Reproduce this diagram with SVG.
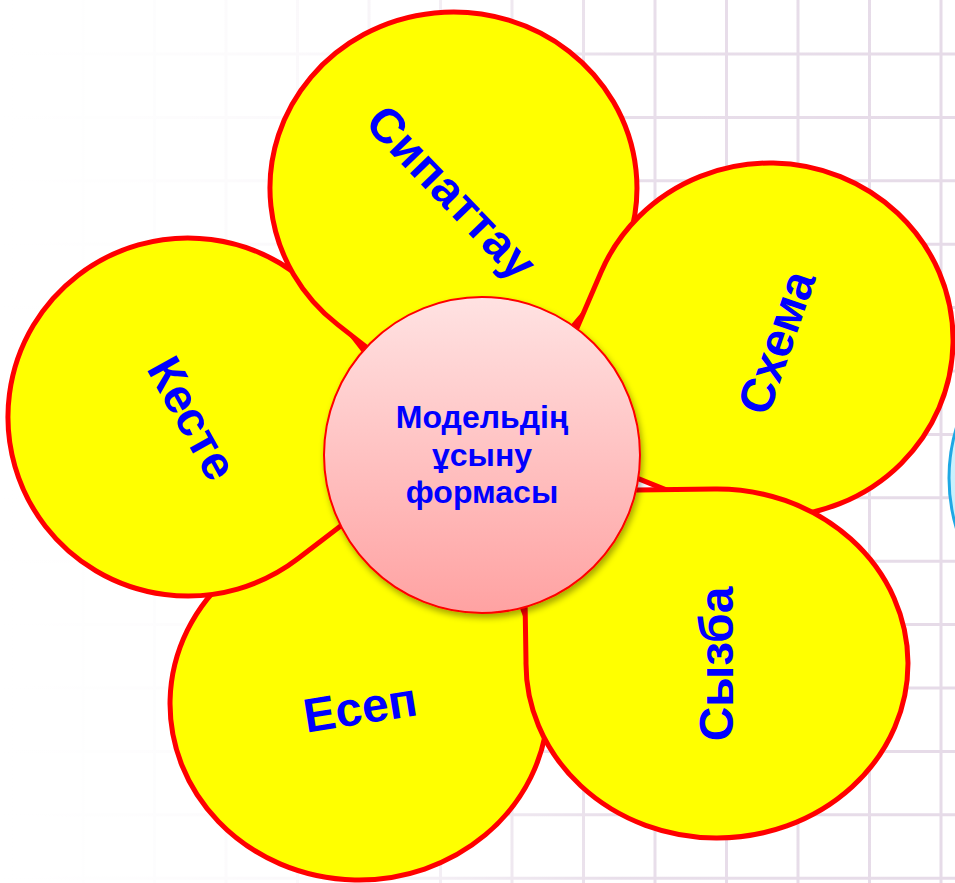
<svg xmlns="http://www.w3.org/2000/svg" width="955" height="883" viewBox="0 0 955 883">
  <defs>
    <linearGradient id="fade" x1="0" y1="0" x2="955" y2="0" gradientUnits="userSpaceOnUse">
      <stop offset="0" stop-color="#ffffff" stop-opacity="1"/>
      <stop offset="0.12" stop-color="#ffffff" stop-opacity="0.97"/>
      <stop offset="0.35" stop-color="#ffffff" stop-opacity="0.8"/>
      <stop offset="0.65" stop-color="#ffffff" stop-opacity="0.1"/>
      <stop offset="1" stop-color="#ffffff" stop-opacity="0"/>
    </linearGradient>
    <linearGradient id="pink" x1="0" y1="0" x2="0" y2="1">
      <stop offset="0" stop-color="#ffe2e2"/>
      <stop offset="1" stop-color="#ffa2a2"/>
    </linearGradient>
    <linearGradient id="cyan" x1="0" y1="0" x2="0" y2="1">
      <stop offset="0" stop-color="#d8f6ff"/>
      <stop offset="1" stop-color="#b8ecfb"/>
    </linearGradient>
    <filter id="shadow" x="-20%" y="-20%" width="140%" height="140%">
      <feDropShadow dx="2" dy="4" stdDeviation="3" flood-color="#000000" flood-opacity="0.35"/>
    </filter>
    <style>
      .grid line { stroke: #e6dbe8; stroke-width: 3; }
      .petal { fill: #ffff00; stroke: #ff0000; stroke-width: 5; stroke-linejoin: round; }
      .ptext { font-family: "Liberation Sans", Arial, sans-serif; font-weight: bold; font-size: 48px; fill: #0000ff; text-anchor: middle; }
      .ctext { font-family: "Liberation Sans", Arial, sans-serif; font-weight: bold; font-size: 32px; fill: #0000ff; text-anchor: middle; }
    </style>
  </defs>

  <rect x="0" y="0" width="955" height="883" fill="#ffffff"/>
  <g class="grid">
    <line x1="11.5" y1="0" x2="11.5" y2="883"/>
    <line x1="83" y1="0" x2="83" y2="883"/>
    <line x1="154.5" y1="0" x2="154.5" y2="883"/>
    <line x1="226" y1="0" x2="226" y2="883"/>
    <line x1="297.5" y1="0" x2="297.5" y2="883"/>
    <line x1="369" y1="0" x2="369" y2="883"/>
    <line x1="440.5" y1="0" x2="440.5" y2="883"/>
    <line x1="512" y1="0" x2="512" y2="883"/>
    <line x1="583.5" y1="0" x2="583.5" y2="883"/>
    <line x1="655" y1="0" x2="655" y2="883"/>
    <line x1="726.5" y1="0" x2="726.5" y2="883"/>
    <line x1="798" y1="0" x2="798" y2="883"/>
    <line x1="869.5" y1="0" x2="869.5" y2="883"/>
    <line x1="941" y1="0" x2="941" y2="883"/>
    <line x1="0" y1="54" x2="955" y2="54"/>
    <line x1="0" y1="117.4" x2="955" y2="117.4"/>
    <line x1="0" y1="180.8" x2="955" y2="180.8"/>
    <line x1="0" y1="244.2" x2="955" y2="244.2"/>
    <line x1="0" y1="307.6" x2="955" y2="307.6"/>
    <line x1="0" y1="371" x2="955" y2="371"/>
    <line x1="0" y1="434.4" x2="955" y2="434.4"/>
    <line x1="0" y1="497.8" x2="955" y2="497.8"/>
    <line x1="0" y1="561.2" x2="955" y2="561.2"/>
    <line x1="0" y1="624.6" x2="955" y2="624.6"/>
    <line x1="0" y1="688" x2="955" y2="688"/>
    <line x1="0" y1="751.4" x2="955" y2="751.4"/>
    <line x1="0" y1="814.8" x2="955" y2="814.8"/>
    <line x1="0" y1="878.2" x2="955" y2="878.2"/>
  </g>
  <rect x="0" y="0" width="955" height="883" fill="url(#fade)"/>

  <g id="side-circle">
    <circle cx="1124" cy="478" r="175" fill="url(#cyan)" stroke="#1fa8e4" stroke-width="3"/>
  </g>

  <g id="connectors"></g>

  <g id="petal-esep">
    <path class="petal" d="M470.7,477.8 L293.4,538.9 A189,176 0 1 0 536.3,642.9 Z"/>
    <text class="ptext" transform="translate(360,707) rotate(-9)" x="0" y="17">Есеп</text>
  </g>
  <g id="petal-keste">
    <path class="petal" d="M440.4,449.6 L330.6,307.8 A180,179 0 1 0 297.8,558.8 Z"/>
    <text class="ptext" transform="translate(193,418) rotate(61)" x="0" y="17">Кесте</text>
  </g>
  <g id="petal-sipattau">
    <path class="petal" d="M480,436 L595.9,299 A183.5,176 0 1 0 337.7,324.6 Z"/>
    <text class="ptext" transform="translate(452,192) rotate(46)" x="0" y="17">Сипаттау</text>
  </g>
  <g id="petal-skhema">
    <path class="petal" d="M530.8,435.4 L699.7,503.4 A183,177 0 1 0 601.1,272 Z"/>
    <text class="ptext" transform="translate(776,342) rotate(-71)" x="0" y="17">Схема</text>
  </g>
  <g id="petal-syzba">
    <path class="petal" d="M523.3,491.4 L526,661.1 A191,174.5 0 1 0 714.3,489 Z"/>
    <text class="ptext" transform="translate(716,664) rotate(-90)" x="0" y="17">Сызба</text>
  </g>

  <g id="center">
    <circle cx="482" cy="455" r="158" fill="url(#pink)" stroke="#ff0000" stroke-width="2" filter="url(#shadow)"/>
    <text class="ctext" x="482" y="428">Модельдің</text>
    <text class="ctext" x="482" y="466">ұсыну</text>
    <text class="ctext" x="482" y="503">формасы</text>
  </g>
</svg>
